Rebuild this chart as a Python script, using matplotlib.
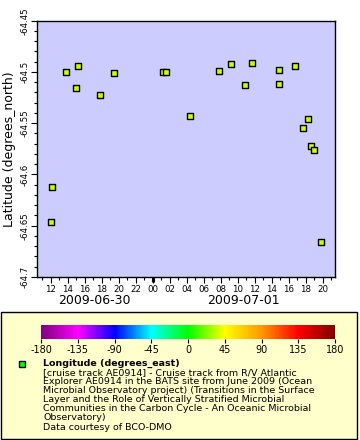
import numpy as np
import matplotlib
matplotlib.use("Agg")
import matplotlib.pyplot as plt
from matplotlib.colors import LinearSegmentedColormap
from matplotlib.patches import Rectangle
from matplotlib.ticker import MultipleLocator, FuncFormatter
import matplotlib.colorbar as mcolorbar
from matplotlib.colors import Normalize

plt.rcParams["axes.unicode_minus"] = False

# hours since 2009-06-30 00:00 and latitude of each cruise point
hours = [12.15, 12.04, 13.80, 14.97, 15.20, 17.79, 19.43, 25.18, 25.53, 28.35, 31.75,
         33.16, 34.80, 35.63, 38.80, 38.91, 40.79, 41.73, 42.32, 42.67, 43.02, 43.84]
lats = [-64.612, -64.646, -64.500, -64.516, -64.494, -64.522, -64.501, -64.500, -64.500,
        -64.543, -64.499, -64.492, -64.5125, -64.491, -64.5115, -64.498, -64.494,
        -64.555, -64.546, -64.572, -64.576, -64.666]
day_labels = ["2009-06-30", "2009-07-01"]
cbar_ticks = [-180, -135, -90, -45, 0, 45, 90, 135, 180]
legend_title = "Longitude (degrees_east)"
legend_lines = [
    "[cruise track AE0914] - Cruise track from R/V Atlantic",
    "Explorer AE0914 in the BATS site from June 2009 (Ocean",
    "Microbial Observatory project) (Transitions in the Surface",
    "Layer and the Role of Vertically Stratified Microbial",
    "Communities in the Carbon Cycle - An Oceanic Microbial",
    "Observatory)",
    "Data courtesy of BCO-DMO",
]

W, H = 360, 440
fig = plt.figure(figsize=(W / 100, H / 100), dpi=100)

def fx(px):
    return px / W

def fy(py):
    return 1 - py / H

# main plot
ax = fig.add_axes([fx(37), fy(277), fx(335) - fx(37), fy(20.7) - fy(277)])
ax.set_facecolor("#ccccff")
ax.scatter(hours, lats, marker="s", s=20, c="#ccff00", edgecolors="black", linewidths=1, zorder=3)
ax.set_xlim(10.39, 45.44)
ax.set_ylim(-64.7, -64.45)

ax.xaxis.set_major_locator(MultipleLocator(2))
ax.xaxis.set_minor_locator(MultipleLocator(1))
ax.xaxis.set_major_formatter(FuncFormatter(lambda v, p: "%02d" % (int(round(v)) % 24)))
ax.yaxis.set_major_locator(MultipleLocator(0.05))
ax.yaxis.set_minor_locator(MultipleLocator(0.01))
ax.yaxis.set_major_formatter(FuncFormatter(lambda v, p: ("%.2f" % v).rstrip("0").rstrip(".")))
ax.tick_params(which="major", length=4, width=0.8, labelsize=6.2, pad=1.5)
ax.tick_params(which="minor", length=2, width=0.8)
for lab in ax.get_yticklabels():
    lab.set_rotation(90)
    lab.set_va("center")
for sp in ax.spines.values():
    sp.set_linewidth(1)

# thicker tick at midnight
ax.plot([24, 24], [0, -0.02], transform=ax.get_xaxis_transform(), color="black",
        lw=2.2, clip_on=False, solid_capstyle="butt")

ax.set_ylabel("Latitude (degrees_north)", fontsize=9, labelpad=3)

# day labels under the hour ticks
xmin, xmax = ax.get_xlim()
trans = ax.get_xaxis_transform()
ax.text((xmin + 24) / 2, -0.09, day_labels[0], transform=trans, ha="center", va="center", fontsize=9)
ax.text((24 + xmax) / 2, -0.09, day_labels[1], transform=trans, ha="center", va="center", fontsize=9)

# legend box
fig.patches.append(Rectangle((fx(1), fy(439)), fx(357) - fx(1), fy(312) - fy(439),
                             transform=fig.transFigure, facecolor="#ffffcc",
                             edgecolor="black", linewidth=1, zorder=-5))

cmap = LinearSegmentedColormap.from_list("rainbow2", [
    "#800080", "#ff00ff", "#0000ff", "#00ffff", "#00ff00",
    "#ffff00", "#ff9900", "#ff0000", "#800000"])
cax = fig.add_axes([fx(41), fy(339), fx(335) - fx(41), fy(325) - fy(339)])
cax.set_zorder(2)
cb = mcolorbar.ColorbarBase(cax, cmap=cmap, norm=Normalize(-180, 180), orientation="horizontal",
                            ticks=cbar_ticks)
cb.outline.set_visible(False)
cax.tick_params(length=3, width=0.8, labelsize=7, pad=1)

fig.lines.append(plt.Line2D([fx(22)], [fy(364)], marker="s", markersize=4.5, color="#00ff00",
                            markeredgecolor="black", markeredgewidth=1, transform=fig.transFigure,
                            zorder=3))
fig.text(fx(43), fy(363.3), legend_title, fontsize=6.8, fontweight="bold", va="center", zorder=3)
for i, line in enumerate(legend_lines):
    fig.text(fx(43), fy(372.7 + i * 9.05), line, fontsize=6.8, va="center", zorder=3)

fig.savefig("out.png", dpi=100)
